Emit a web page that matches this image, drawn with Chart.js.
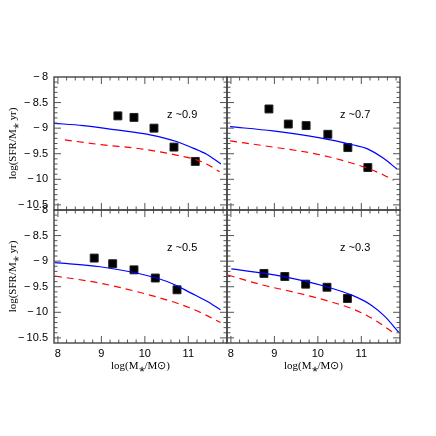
<!DOCTYPE html>
<html><head><meta charset="utf-8">
<script src="https://cdn.jsdelivr.net/npm/chart.js@4.4.1/dist/chart.umd.min.js"></script>
<style>
html,body{margin:0;padding:0;background:#fff;}
#wrap{position:relative;width:436px;height:436px;}
#wrap canvas{position:absolute;left:0;top:0;}
</style></head><body>
<div id="wrap">
<canvas id="c1" width="436" height="436"></canvas>
<canvas id="c2" width="436" height="436"></canvas>
<canvas id="c3" width="436" height="436"></canvas>
<canvas id="c4" width="436" height="436"></canvas>
</div>
<script>
// ---- labels / ticks ----
const redshiftLabels = ['z ~0.9', 'z ~0.7', 'z ~0.5', 'z ~0.3'];
const xTickValues = [8, 9, 10, 11];
const yTickValues = [-8, -8.5, -9, -9.5, -10, -10.5];
const xTitle = 'log(M\u204E/M\u2299)';
const yTitle = 'log(SFR/M\u204E yr)';

// ---- z ~ 0.9 ----
const obsMass09 = [9.38, 9.75, 10.21, 10.67, 11.16];
const obsSSFR09 = [-8.76, -8.79, -9.00, -9.37, -9.65];
const modelMass09 = [7.9, 8.58, 9.35, 10.12, 10.73, 11.11, 11.42, 11.75];
const modelSSFR09 = [-8.905, -8.95, -9.035, -9.13, -9.26, -9.39, -9.51, -9.70];
const lowMass09 = [8.16, 8.97, 9.96, 10.8, 11.19, 11.42, 11.72];
const lowSSFR09 = [-9.23, -9.32, -9.41, -9.54, -9.62, -9.70, -9.85];

// ---- z ~ 0.7 ----
const obsMass07 = [8.875, 9.32, 9.73, 10.23, 10.69, 11.15];
const obsSSFR07 = [-8.625, -8.92, -8.95, -9.12, -9.38, -9.77];
const modelMass07 = [7.98, 8.97, 10.05, 10.82, 11.13, 11.51, 11.82];
const modelSSFR07 = [-8.97, -9.055, -9.19, -9.33, -9.40, -9.59, -9.80];
const lowMass07 = [7.98, 8.97, 10.05, 11.13, 11.5, 11.74];
const lowSSFR07 = [-9.25, -9.37, -9.52, -9.78, -9.91, -10.02];

// ---- z ~ 0.5 ----
const obsMass05 = [8.835, 9.26, 9.75, 10.24, 10.74];
const obsSSFR05 = [-8.94, -9.05, -9.17, -9.33, -9.56];
const modelMass05 = [7.93, 8.97, 10.27, 10.74, 11.03, 11.42, 11.74];
const modelSSFR05 = [-9.03, -9.11, -9.33, -9.48, -9.61, -9.78, -9.95];
const lowMass05 = [7.93, 8.97, 10.27, 11.03, 11.42, 11.74];
const lowSSFR05 = [-9.29, -9.43, -9.70, -9.91, -10.06, -10.20];

// ---- z ~ 0.3 ----
const obsMass03 = [8.76, 9.24, 9.72, 10.21, 10.68];
const obsSSFR03 = [-9.24, -9.30, -9.45, -9.51, -9.73];
const modelMass03 = [8.01, 8.78, 9.70, 10.24, 10.77, 11.23, 11.54, 11.86];
const modelSSFR03 = [-9.15, -9.24, -9.39, -9.51, -9.66, -9.86, -10.08, -10.39];
const lowMass03 = [7.93, 8.70, 9.47, 10.24, 10.85, 11.31, 11.77];
const lowSSFR03 = [-9.27, -9.46, -9.61, -9.78, -9.95, -10.15, -10.42];

const X_MIN = 7.91, X_MAX = 11.89, Y_MIN = -10.6, Y_MAX = -8;

function pts(xs, ys) { return xs.map((x, i) => ({x: x, y: ys[i]})); }
function fmtY(v) {
  const a = Math.abs(v);
  return (v < 0 ? '\u2212\u2009' : '') + (Number.isInteger(a) ? a.toFixed(0) : a.toFixed(1));
}

const framePlugin = {
  id: 'frame',
  afterDatasetsDraw(chart, args, opts) {
    const ctx = chart.ctx, a = chart.chartArea;
    const xs = chart.scales.x, ys = chart.scales.y;
    ctx.save();
    ctx.strokeStyle = '#555';
    ctx.lineWidth = 1;
    ctx.beginPath();
    // x ticks: major every 1, minor every 0.2
    for (let k = 40; k <= 59; k++) {
      const v = k / 5;
      const px = xs.getPixelForValue(v);
      if (px <= a.left + 0.5 || px >= a.right - 0.5) continue;
      const len = (k % 5 === 0) ? 7 : 3.5;
      ctx.moveTo(px, a.bottom); ctx.lineTo(px, a.bottom - len);
      ctx.moveTo(px, a.top); ctx.lineTo(px, a.top + len);
    }
    // y ticks: major every 0.5, minor every 0.1
    for (let k = -106; k <= -80; k++) {
      const v = k / 10;
      const py = ys.getPixelForValue(v);
      if (py <= a.top + 0.5 || py >= a.bottom - 0.5) continue;
      const len = (k % 5 === 0) ? 7 : 3.5;
      ctx.moveTo(a.left, py); ctx.lineTo(a.left + len, py);
      ctx.moveTo(a.right, py); ctx.lineTo(a.right - len, py);
    }
    ctx.stroke();
    ctx.lineWidth = 1.4;
    ctx.strokeStyle = '#444';
    ctx.strokeRect(a.left, a.top, a.right - a.left, a.bottom - a.top);
    ctx.fillStyle = '#000';
    ctx.font = '11px "Liberation Sans", Arial, sans-serif';
    ctx.textBaseline = 'middle';
    ctx.textAlign = 'left';
    ctx.fillText(opts.label, a.left + 113, a.top + 38);
    ctx.restore();
  }
};

const panels = [
  {id: 'c1', label: redshiftLabels[0], ox: obsMass09, oy: obsSSFR09, bx: modelMass09, by: modelSSFR09, rx: lowMass09, ry: lowSSFR09, showX: false, showY: true, pad: {left: 4, right: 209, top: 77, bottom: 226}},
  {id: 'c2', label: redshiftLabels[1], ox: obsMass07, oy: obsSSFR07, bx: modelMass07, by: modelSSFR07, rx: lowMass07, ry: lowSSFR07, showX: false, showY: false, pad: {left: 227, right: 36, top: 77, bottom: 226}},
  {id: 'c3', label: redshiftLabels[2], ox: obsMass05, oy: obsSSFR05, bx: modelMass05, by: modelSSFR05, rx: lowMass05, ry: lowSSFR05, showX: true, showY: true, pad: {left: 4, right: 209, top: 210, bottom: 59}},
  {id: 'c4', label: redshiftLabels[3], ox: obsMass03, oy: obsSSFR03, bx: modelMass03, by: modelSSFR03, rx: lowMass03, ry: lowSSFR03, showX: true, showY: false, pad: {left: 227, right: 36, top: 210, bottom: 59}}
];

const tickFont = {family: '"Liberation Sans", Arial, sans-serif', size: 11};
const titleFont = {family: '"Liberation Serif", "Times New Roman", serif', size: 11};

panels.forEach(p => {
  new Chart(document.getElementById(p.id), {
    type: 'line',
    data: {
      datasets: [
        {label: 'model', data: pts(p.bx, p.by), borderColor: '#0000ff', borderWidth: 1.2, pointRadius: 0, fill: false, cubicInterpolationMode: 'monotone'},
        {label: 'low', data: pts(p.rx, p.ry), borderColor: '#ff0000', borderWidth: 1.2, borderDash: [7, 5], pointRadius: 0, fill: false, cubicInterpolationMode: 'monotone'},
        {label: 'obs', data: pts(p.ox, p.oy), showLine: false, pointStyle: 'rect', pointRadius: 5.6, backgroundColor: '#000', borderColor: '#222', borderWidth: 1}
      ]
    },
    options: {
      responsive: false,
      animation: false,
      events: [],
      layout: {padding: p.pad},
      plugins: {legend: {display: false}, tooltip: {enabled: false}, frame: {label: p.label}},
      scales: {
        x: {
          type: 'linear', min: X_MIN, max: X_MAX, display: p.showX,
          afterBuildTicks: s => { s.ticks = xTickValues.map(v => ({value: v})); },
          afterFit: s => { s.height = p.showX ? 34 : 0; },
          grid: {display: false, drawTicks: false},
          border: {display: false},
          ticks: {font: tickFont, color: '#000', padding: 4, maxRotation: 0, callback: v => String(v)},
          title: {display: true, text: xTitle, font: titleFont, color: '#000', padding: {top: 0, bottom: 4}}
        },
        y: {
          type: 'linear', min: Y_MIN, max: Y_MAX, display: p.showY,
          afterBuildTicks: s => { s.ticks = yTickValues.map(v => ({value: v})); },
          afterFit: s => { s.width = p.showY ? 50 : 0; },
          grid: {display: false, drawTicks: false},
          border: {display: false},
          ticks: {font: tickFont, color: '#000', padding: 6, callback: v => fmtY(v)},
          title: {display: true, text: yTitle, font: titleFont, color: '#000', padding: {top: 3, bottom: 0}}
        }
      }
    },
    plugins: [framePlugin]
  });
});
</script>
</body></html>
